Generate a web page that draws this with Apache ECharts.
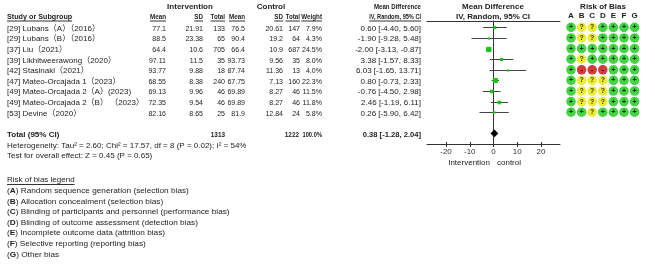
<!DOCTYPE html>
<html>
<head>
<meta charset="utf-8">
<script src="https://cdn.jsdelivr.net/npm/echarts@6/dist/echarts.min.js"></script>
<style>
html, body { margin: 0; background: #fff; }
#main { width: 655px; height: 267px; }
</style>
</head>
<body>
<div id="main"></div>
<script>
// study data
const studyNames = [
  '[29] Lubans（A）（2016）',
  '[29] Lubans（B）（2016）',
  '[37] Liu（2021）',
  '[39] Likhitweerawong（2020）',
  '[42] Stasinaki（2021）',
  '[47] Mateo-Orcajada 1（2023）',
  '[49] Mateo-Orcajada 2（A）(2023)',
  '[49] Mateo-Orcajada 2（B） （2023）',
  '[53] Devine（2020）'
];
const intMean = [77.1, 88.5, 64.4, 97.11, 93.77, 68.55, 69.13, 72.35, 82.16];
const intSD = [21.91, 23.38, 10.6, 11.5, 9.88, 8.38, 9.96, 9.54, 8.65];
const intN = [133, 65, 705, 35, 18, 240, 46, 46, 25];
const ctrlMean = [76.5, 90.4, 66.4, 93.73, 87.74, 67.75, 69.89, 69.89, 81.9];
const ctrlSD = [20.61, 19.2, 10.9, 9.56, 11.36, 7.13, 8.27, 8.27, 12.84];
const ctrlN = [147, 64, 687, 35, 13, 160, 46, 46, 24];
const weights = [7.9, 4.3, 24.5, 8.0, 4.0, 22.3, 11.5, 11.8, 5.8];
const md = [0.60, -1.90, -2.00, 3.38, 6.03, 0.80, -0.76, 2.46, 0.26];
const ciLow = [-4.40, -9.28, -3.13, -1.57, -1.65, -0.73, -4.50, -1.19, -5.90];
const ciHigh = [5.60, 5.48, -0.87, 8.33, 13.71, 2.33, 2.98, 6.11, 6.42];

const totalIntN = 1313;
const totalCtrlN = 1222;
const totalWeight = 100.0;
const totalMD = 0.38, totalLow = -1.28, totalHigh = 2.04;
const totalRow = 10;

const xTicks = [-20, -10, 0, 10, 20];

// risk of bias, one string per study, columns A..G
const robCols = ['A', 'B', 'C', 'D', 'E', 'F', 'G'];
const robRows = ['+??++++', '+??++++', '+++++++', '+?+++++', '+---+++', '+???+++', '+???+++', '+???+++', '++?++++'];

const heterogeneity = 'Heterogeneity: Tau² = 2.60; Chi² = 17.57, df = 8 (P = 0.02); I² = 54%';
const overallTest = 'Test for overall effect: Z = 0.45 (P = 0.65)';
const legendItems = [
  ['A', 'Random sequence generation (selection bias)'],
  ['B', 'Allocation concealment (selection bias)'],
  ['C', 'Blinding of participants and personnel (performance bias)'],
  ['D', 'Blinding of outcome assessment (detection bias)'],
  ['E', 'Incomplete outcome data (attrition bias)'],
  ['F', 'Selective reporting (reporting bias)'],
  ['G', 'Other bias']
];

const FONT = '"Liberation Sans", Arial, "Noto Sans CJK SC", sans-serif';
const TXT = '#222';
const robColor = { '+': '#14c814', '?': '#e8e800', '-': '#c80a0a' };

// the number columns in the figure are set a little tighter than the body text
const NUM_SX = 0.88, HDR_SX = 0.78;

const measure = (function () {
  const ctx = document.createElement('canvas').getContext('2d');
  return function (s, bold) {
    ctx.font = (bold ? 'bold ' : '') + '8px ' + FONT;
    return ctx.measureText(s).width;
  };
})();

function txt(text, x, y, align, bold, sx) {
  return {
    type: 'text', silent: true, x: x, y: y, scaleX: sx || 1,
    style: {
      text: text, x: 0, y: 0,
      font: (bold ? 'bold ' : '') + '8px ' + FONT,
      fill: TXT,
      align: align || 'left', textAlign: align || 'left',
      verticalAlign: 'middle', textVerticalAlign: 'middle'
    }
  };
}
function uline(x1, x2, y) {
  return { type: 'line', silent: true, shape: { x1: x1, y1: y, x2: x2, y2: y }, style: { stroke: '#333', lineWidth: 1 } };
}
// right-aligned, bold, underlined column header
function hdr(text, xr, y, sx) {
  sx = sx || HDR_SX;
  return [txt(text, xr, y, 'right', true, sx), uline(xr - measure(text, true) * sx, xr, y + 4.5)];
}

// table column right edges
const colX = { iMean: 166, iSD: 203, iN: 225, cMean: 245, cSD: 283, cN: 300, w: 322, md: 421 };
const fmtCI = (m, l, h) => m.toFixed(2) + ' [' + l.toFixed(2) + ', ' + h.toFixed(2) + ']';

const graphics = [];
graphics.push(txt('Intervention', 190, 7, 'center', true));
graphics.push(txt('Control', 271, 7, 'center', true));
graphics.push(txt('Mean Difference', 421, 7, 'right', true, 0.76));
graphics.push(txt('Mean Difference', 493, 7, 'center', true));
graphics.push(txt('Risk of Bias', 603, 7, 'center', true));
graphics.push(txt('Study or Subgroup', 7, 16.5, 'left', true, 0.9));
graphics.push(uline(7, 7 + measure('Study or Subgroup', true) * 0.9, 21));
[['Mean', colX.iMean], ['SD', colX.iSD], ['Total', colX.iN], ['Mean', colX.cMean], ['SD', colX.cSD],
 ['Total', colX.cN], ['Weight', colX.w]].forEach(function (h) {
  hdr(h[0], h[1], 16.5).forEach(g => graphics.push(g));
});
hdr('IV, Random, 95% CI', colX.md, 16.5, 0.7).forEach(g => graphics.push(g));
graphics.push(txt('IV, Random, 95% CI', 493, 16.5, 'center', true));
graphics.push(txt(heterogeneity, 7, 145.5));
graphics.push(txt(overallTest, 7, 156));
graphics.push(txt('Intervention', 490, 162.5, 'right'));
graphics.push(txt('control', 497, 162.5, 'left'));
graphics.push(txt('Risk of bias legend', 7, 180));
graphics.push(uline(7, 7 + measure('Risk of bias legend'), 184.5));
legendItems.forEach(function (it, k) {
  const g = txt('({b|' + it[0] + '}) ' + it[1], 7, 191 + k * 10.55, 'left', false, 1.03);
  g.style.rich = { b: { fontWeight: 'bold', fontSize: 8, fontFamily: FONT, fill: TXT } };
  graphics.push(g);
});

// forest rows
const forestData = md.map((m, i) => [m, i, ciLow[i], ciHigh[i], weights[i]]);
const tableData = studyNames.map((s, i) => [0, i]).concat([[0, totalRow]]);
const robData = [];
robRows.forEach(function (row, r) {
  row.split('').forEach(function (code, c) { robData.push({ value: [c, r], code: code }); });
});

const chart = echarts.init(document.getElementById('main'));
chart.setOption({
  animation: false,
  textStyle: { fontFamily: FONT },
  grid: [
    { left: 427, top: 21, width: 133, height: 123 },
    { left: 565.7, top: 21, width: 74.2, height: 123 }
  ],
  xAxis: [
    {
      type: 'value', gridIndex: 0, min: -28, max: 28, position: 'bottom',
      axisLine: { onZero: false, lineStyle: { color: '#333' } },
      axisTick: { show: true, length: 3, customValues: xTicks, lineStyle: { color: '#333' } },
      axisLabel: { customValues: xTicks, fontSize: 8, color: '#333', margin: 4 },
      splitLine: { show: false }
    },
    {
      type: 'value', gridIndex: 0, min: -28, max: 28, position: 'bottom',
      axisLine: { show: false, onZero: false },
      axisTick: { show: true, inside: true, length: 2, customValues: xTicks, lineStyle: { color: '#333' } },
      axisLabel: { show: false }, splitLine: { show: false }
    },
    {
      type: 'value', gridIndex: 0, min: -28, max: 28, position: 'top',
      axisLine: { onZero: false, lineStyle: { color: '#333' } },
      axisTick: { show: false }, axisLabel: { show: false }, splitLine: { show: false }
    },
    {
      type: 'category', gridIndex: 1, data: robCols, position: 'top',
      axisLine: { show: false }, axisTick: { show: false },
      axisLabel: { fontSize: 8, fontWeight: 'bold', color: TXT, margin: 1 }
    }
  ],
  yAxis: [
    {
      type: 'value', gridIndex: 0, inverse: true, min: -0.6, max: 11,
      axisLine: { show: true, onZero: true, lineStyle: { color: '#333' } },
      axisTick: { show: false }, axisLabel: { show: false }, splitLine: { show: false }
    },
    {
      type: 'value', gridIndex: 1, inverse: true, min: -0.6, max: 11, show: false
    }
  ],
  series: [
    {
      type: 'custom', xAxisIndex: 0, yAxisIndex: 0, silent: true,
      data: forestData, encode: { x: [0, 2, 3], y: 1 },
      renderItem: function (params, api) {
        const y = api.value(1);
        const a = api.coord([api.value(2), y]);
        const b = api.coord([api.value(3), y]);
        const c = api.coord([api.value(0), y]);
        const ly = Math.round(a[1]) + 0.5;
        const s = Math.max(2, Math.sqrt(api.value(4)) * 1.05);
        return {
          type: 'group', children: [
            { type: 'line', shape: { x1: a[0], y1: ly, x2: b[0], y2: ly }, style: { stroke: '#444', lineWidth: 1 } },
            { type: 'rect', shape: { x: c[0] - s / 2, y: ly - s / 2, width: s, height: s }, style: { fill: '#12c812' } }
          ]
        };
      }
    },
    {
      type: 'custom', xAxisIndex: 0, yAxisIndex: 0, silent: true,
      data: [[totalMD, totalRow, totalLow, totalHigh]], encode: { x: [0, 2, 3], y: 1 },
      renderItem: function (params, api) {
        const y = api.value(1);
        const a = api.coord([api.value(2), y]);
        const b = api.coord([api.value(3), y]);
        const c = api.coord([api.value(0), y]);
        return {
          type: 'polygon',
          shape: { points: [a, [c[0], c[1] - 3.8], b, [c[0], c[1] + 3.8]] },
          style: { fill: '#000' }
        };
      }
    },
    {
      // table text, rows placed by the forest y axis
      type: 'custom', xAxisIndex: 0, yAxisIndex: 0, silent: true, clip: false,
      data: tableData, encode: { x: 0, y: 1 },
      renderItem: function (params, api) {
        const i = params.dataIndex;
        const y = api.coord([0, api.value(1)])[1] + 1.2;
        if (i < studyNames.length) {
          return {
            type: 'group', children: [
              txt(studyNames[i], 7, y),
              txt(String(intMean[i]), colX.iMean, y, 'right', false, NUM_SX),
              txt(String(intSD[i]), colX.iSD, y, 'right', false, NUM_SX),
              txt(String(intN[i]), colX.iN, y, 'right', false, NUM_SX),
              txt(String(ctrlMean[i]), colX.cMean, y, 'right', false, NUM_SX),
              txt(String(ctrlSD[i]), colX.cSD, y, 'right', false, NUM_SX),
              txt(String(ctrlN[i]), colX.cN, y, 'right', false, NUM_SX),
              txt(weights[i].toFixed(1) + '%', colX.w, y, 'right', false, NUM_SX),
              txt(fmtCI(md[i], ciLow[i], ciHigh[i]), colX.md, y, 'right')
            ]
          };
        }
        return {
          type: 'group', children: [
            txt('Total (95% CI)', 7, y, 'left', true),
            txt(String(totalIntN), colX.iN, y, 'right', true, 0.8),
            txt(String(totalCtrlN), colX.cN - 1, y, 'right', true, 0.8),
            txt(totalWeight.toFixed(1) + '%', colX.w, y, 'right', true, 0.72),
            txt(fmtCI(totalMD, totalLow, totalHigh), colX.md, y, 'right', true, 0.95)
          ]
        };
      }
    },
    {
      type: 'scatter', xAxisIndex: 3, yAxisIndex: 1, silent: true,
      data: robData, symbol: 'circle', symbolSize: 9.6,
      itemStyle: { color: p => robColor[p.data.code] },
      label: {
        show: true, position: 'inside', formatter: p => p.data.code,
        fontSize: 7, fontWeight: 'bold', color: '#000', fontFamily: FONT
      }
    }
  ],
  graphic: graphics
});
</script>
</body>
</html>
